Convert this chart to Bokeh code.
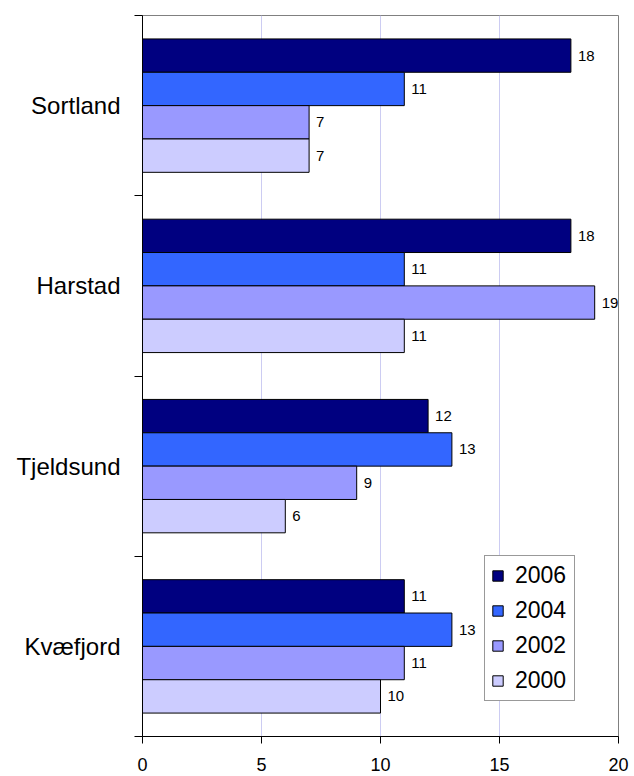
from bokeh.plotting import figure
from bokeh.models import Range1d, FixedTicker, Legend, LegendItem, ColumnDataSource
from bokeh.core.properties import value
from bokeh.embed import file_html
from bokeh.resources import INLINE

categories = ["Sortland", "Harstad", "Tjeldsund", "Kvæfjord"]
years = ["2006", "2004", "2002", "2000"]
values_2006 = [18, 18, 12, 11]
values_2004 = [11, 11, 13, 13]
values_2002 = [7, 19, 9, 11]
values_2000 = [7, 11, 6, 10]
colors = ["#000080", "#3366ff", "#9999ff", "#ccccff"]
x_ticks = [0, 5, 10, 15, 20]

series = [values_2006, values_2004, values_2002, values_2000]
FONT = "Liberation Sans"

p = figure(width=634, height=776, output_backend="svg", toolbar_location=None,
           x_range=Range1d(0, 20), y_range=Range1d(0, len(categories)),
           min_border_left=142, min_border_right=16, min_border_top=15, min_border_bottom=40)

p.outline_line_color = "#808080"
p.outline_line_width = 1
p.background_fill_color = "white"
p.border_fill_color = "white"

bar_h = 0.185
n = len(categories)
centers = [n - 0.5 - i for i in range(n)]

renderers = []
for j, (yr, vals, col) in enumerate(zip(years, series, colors)):
    off = (1.5 - j) * bar_h
    ys = [c + off for c in centers]
    src = ColumnDataSource(dict(y=ys, right=vals, lab=[str(v) for v in vals]))
    r = p.hbar(y="y", left=0, right="right", height=bar_h, source=src,
               fill_color=col, line_color="black", line_width=1)
    renderers.append((yr, r))
    p.text(x="right", y="y", text="lab", source=src, x_offset=7,
           text_font=value(FONT), text_font_size="15px", text_baseline="middle",
           text_align="left", text_color="black")

# x axis
p.xaxis.ticker = FixedTicker(ticks=x_ticks)
p.xaxis.axis_line_color = "black"
p.xaxis.major_tick_line_color = "black"
p.xaxis.major_tick_out = 7
p.xaxis.major_tick_in = 0
p.xaxis.minor_tick_line_color = None
p.xaxis.major_label_text_font = FONT
p.xaxis.major_label_text_font_size = "18px"
p.xaxis.major_label_text_color = "black"
p.xaxis.major_label_standoff = 14

# y axis
p.yaxis.ticker = FixedTicker(ticks=centers, minor_ticks=list(range(n + 1)))
p.yaxis.major_label_overrides = {c: cat for c, cat in zip(centers, categories)}
p.yaxis.axis_line_color = "black"
p.yaxis.major_tick_line_color = None
p.yaxis.major_tick_out = 0
p.yaxis.major_tick_in = 0
p.yaxis.minor_tick_line_color = "black"
p.yaxis.minor_tick_out = 8
p.yaxis.minor_tick_in = 0
p.yaxis.major_label_text_font = FONT
p.yaxis.major_label_text_font_size = "24px"
p.yaxis.major_label_text_color = "black"
p.yaxis.major_label_standoff = 14

p.xgrid.ticker = FixedTicker(ticks=x_ticks[1:-1])
p.xgrid.grid_line_color = "#ccccf2"
p.ygrid.grid_line_color = None

legend = Legend(items=[LegendItem(label=yr, renderers=[r]) for yr, r in renderers],
                location=(342, 35), orientation="vertical")
legend.label_text_font = FONT
legend.label_text_font_size = "23px"
legend.label_text_color = "black"
legend.glyph_width = 13
legend.glyph_height = 13
legend.label_height = 24
legend.label_width = 53
legend.spacing = 8
legend.padding = 6
legend.margin = 0
legend.label_standoff = 11
legend.border_line_color = "#333333"
legend.border_line_width = 1
legend.background_fill_alpha = 1.0
p.add_layout(legend)

open("out.html", "w").write(file_html(p, INLINE))
